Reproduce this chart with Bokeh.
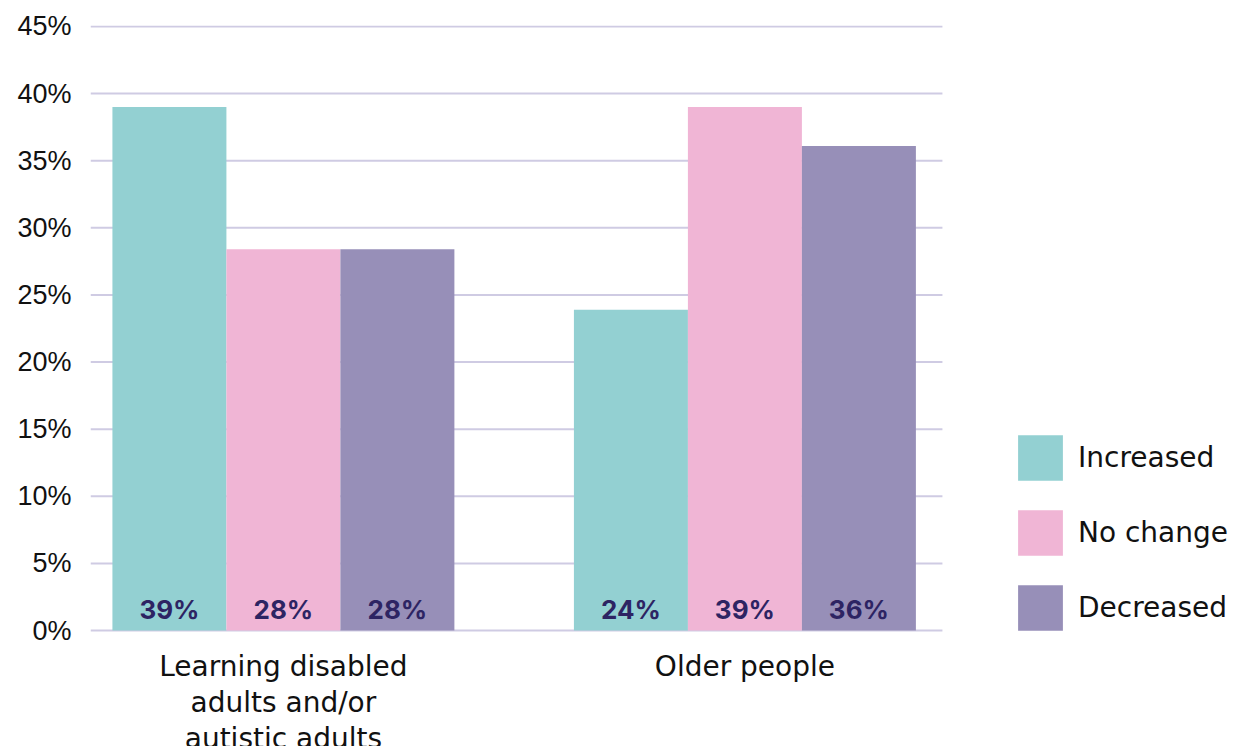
from bokeh.plotting import figure
from bokeh.models import (ColumnDataSource, Range1d, FixedTicker,
                          PrintfTickFormatter, Legend, LegendItem)
from bokeh.transform import dodge
from bokeh.core.properties import value
from bokeh.embed import file_html
from bokeh.resources import INLINE

# ---- data ----
categories = ["Learning disabled\nadults and/or\nautistic adults", "Older people"]
series = ["Increased", "No change", "Decreased"]
increased = [39.0, 23.9]
no_change = [28.4, 39.0]
decreased = [28.4, 36.1]
colors = ["#93D0D2", "#F0B5D5", "#978FB8"]
y_ticks = [0, 5, 10, 15, 20, 25, 30, 35, 40, 45]

group_x = list(range(len(categories)))
bar_w = 0.247

src = ColumnDataSource(dict(
    x=group_x,
    cat=categories,
    inc=increased, noc=no_change, dec=decreased,
    inc_l=[f"{round(v)}%" for v in increased],
    noc_l=[f"{round(v)}%" for v in no_change],
    dec_l=[f"{round(v)}%" for v in decreased],
    zero=[0] * len(group_x),
))

W, H = 1235, 746
x0, x1 = -0.418, 1.428
x_end = x0 + (W - 90) / 461.5
p = figure(width=W, height=H, output_backend="svg", toolbar_location=None,
           x_range=Range1d(x0, x_end), y_range=Range1d(-8.64, 45.07),
           min_border_left=90, min_border_right=0, min_border_top=25, min_border_bottom=0)
p.outline_line_color = None
p.background_fill_color = "white"
p.border_fill_color = "white"

# horizontal grid lines limited to the plotting area
grid = p.segment(x0=[x0] * len(y_ticks), x1=[x1] * len(y_ticks), y0=y_ticks, y1=y_ticks,
                 line_color="#CFCBE3", line_width=2)
grid.level = "underlay"

cols = ["inc", "noc", "dec"]
offsets = [-bar_w, 0, bar_w]
renderers = []
for c, off, col in zip(cols, offsets, colors):
    r = p.vbar(x=dodge("x", off, range=p.x_range), top=c, bottom=0, width=bar_w,
               source=src, fill_color=col, line_color=None)
    renderers.append(r)
    p.text(x=dodge("x", off, range=p.x_range), y="zero", text=c + "_l", source=src,
           text_align="center", text_baseline="middle", y_offset=-21,
           text_font=value("Inter"), text_font_style="bold", text_font_size="26px",
           text_color="#2D2463")

# category labels below the baseline
p.text(x="x", y="zero", text="cat", source=src, text_align="center", text_baseline="top",
       y_offset=19, text_font=value("DejaVu Sans"), text_font_size="28px",
       text_line_height=1.1, text_color="#111111")

# axes
p.xaxis.visible = False
p.yaxis.ticker = FixedTicker(ticks=y_ticks)
p.yaxis.formatter = PrintfTickFormatter(format="%d%%")
p.yaxis.axis_line_color = None
p.yaxis.major_tick_line_color = None
p.yaxis.minor_tick_line_color = None
p.yaxis.major_label_text_font = "Liberation Sans"
p.yaxis.major_label_text_font_size = "27px"
p.yaxis.major_label_text_color = "#111111"
p.yaxis.major_label_standoff = 13

p.xgrid.grid_line_color = None
p.ygrid.grid_line_color = None

legend = Legend(items=[LegendItem(label=s, renderers=[r]) for s, r in zip(series, renderers)],
                location=(922, 110), orientation="vertical",
                glyph_width=56, glyph_height=57, label_height=57, spacing=18,
                label_standoff=10, padding=0, margin=0,
                border_line_color=None, background_fill_alpha=0,
                label_text_font="DejaVu Sans", label_text_font_size="28px",
                label_text_color="#111111")
p.add_layout(legend, "center")

open("out.html", "w").write(file_html(p, INLINE))
